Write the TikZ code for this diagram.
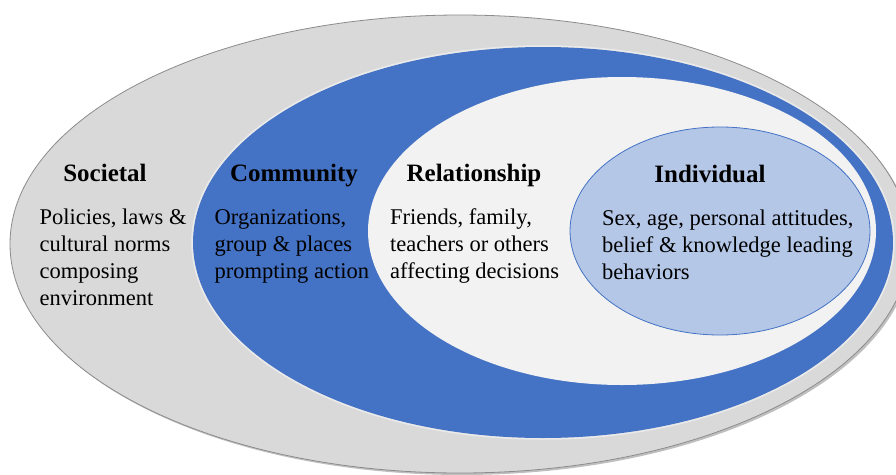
\documentclass[tikz,border=0pt]{standalone}
\usepackage{fontspec}
\setmainfont{Liberation Serif}
\definecolor{societalfill}{HTML}{D9D9D9}
\definecolor{societalline}{HTML}{8C8C8C}
\definecolor{communityfill}{HTML}{4472C4}
\definecolor{relationfill}{HTML}{F2F2F2}
\definecolor{individualfill}{HTML}{B4C7E7}
\definecolor{individualline}{HTML}{4472C4}
\tikzset{
  layertitle/.style={anchor=base, inner sep=0pt, font=\fontsize{25}{30}\selectfont\bfseries},
  layertext/.style={anchor=base west, inner sep=0pt, font=\fontsize{22.5}{27.3}\selectfont},
}
\newcommand{\layerlines}[1]{\renewcommand{\arraystretch}{1}\begin{tabular}[t]{@{}l@{}}#1\end{tabular}}
\begin{document}
\begin{tikzpicture}[x=1pt,y=-1pt]
\useasboundingbox (0,0) rectangle (896,474);
\clip (0,0) rectangle (896,474);
\fill[white] (0,0) rectangle (896,474);

% societal ring with a soft drop shadow
\fill[black, opacity=0.25] (462,246) ellipse [x radius=450, y radius=229];
\filldraw[fill=societalfill, draw=societalline, line width=0.8pt] (460,244) ellipse [x radius=450, y radius=229];

% community ring
\fill[communityfill] (543,242.5) ellipse [x radius=350, y radius=195.5];
\draw[white, opacity=0.45, line width=1.5pt] (543,242.5) ellipse [x radius=351, y radius=196.5];

% relationship ring
\fill[relationfill] (622,231) ellipse [x radius=254, y radius=154];

% individual core
\filldraw[fill=individualfill, draw=individualline, line width=0.8pt] (720,231) ellipse [x radius=150, y radius=104];

% titles
\node[layertitle] (soctitle) at (105,181) {Societal};
\node[layertitle] (comtitle) at (294,181) {Community};
\node[layertitle] (reltitle) at (474,181) {Relationship};
\node[layertitle] (indtitle) at (710,182) {Individual};

% descriptions
\node[layertext] (soctext) at (39.5,224) {\layerlines{Policies, laws \&\\cultural norms\\composing\\environment}};
\node[layertext] (comtext) at (214.5,224) {\layerlines{Organizations,\\group \& places\\prompting action}};
\node[layertext] (reltext) at (390,224) {\layerlines{Friends, family,\\teachers or others\\affecting decisions}};
\node[layertext] (indtext) at (602,225) {\layerlines{Sex, age, personal attitudes,\\belief \& knowledge leading\\behaviors}};
\end{tikzpicture}
\end{document}
